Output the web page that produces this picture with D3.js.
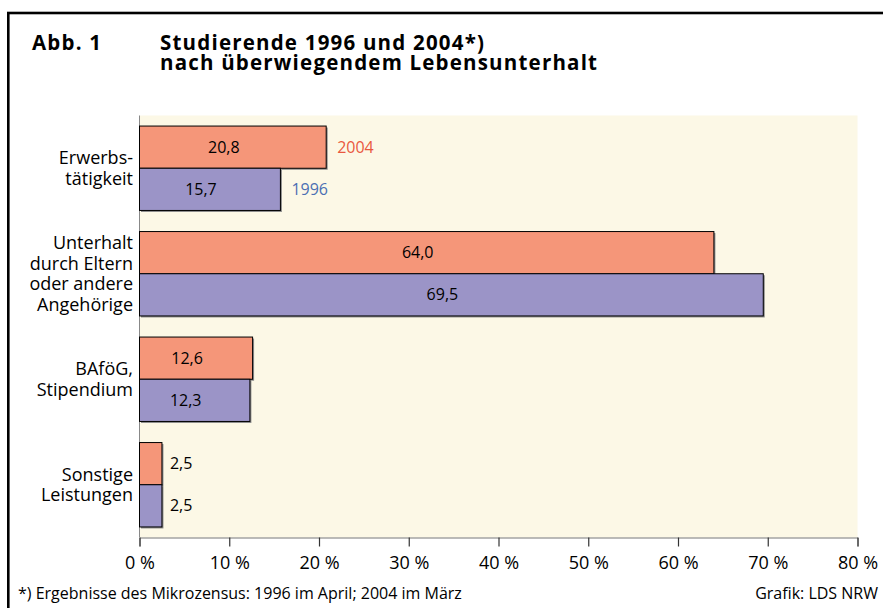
<!DOCTYPE html>
<html lang="de">
<head>
    <meta charset="UTF-8">
    <title>Studierende 1996 und 2004</title>
    <script src="https://cdn.jsdelivr.net/npm/d3@7/dist/d3.min.js"></script>
    <style>
        body { margin: 0; background: #fff; }
        svg { display: block; font-family: "Open Sans", sans-serif; }
    </style>
</head>
<body>
<div id="container"></div>
<script>
    // data
    const categories = [
        ["Erwerbs-", "tätigkeit"],
        ["Unterhalt", "durch Eltern", "oder andere", "Angehörige"],
        ["BAföG,", "Stipendium"],
        ["Sonstige", "Leistungen"]
    ];
    const years = ["2004", "1996"];
    const values2004 = [20.8, 64.0, 12.6, 2.5];
    const values1996 = [15.7, 69.5, 12.3, 2.5];
    const xTicks = [0, 10, 20, 30, 40, 50, 60, 70, 80];

    const width = 883, height = 608;
    const plotLeft = 139.5, plotRight = 857.5, plotTop = 115.5, plotBottom = 537.5;

    const colors = { "2004": "#f59679", "1996": "#9b94c7" };
    const legendColors = { "2004": "#e9583f", "1996": "#4b6fb3" };

    const rows = categories.map((c, i) => ({
        lines: c, key: i,
        vals: [{ year: "2004", v: values2004[i] }, { year: "1996", v: values1996[i] }]
    }));

    let svg = d3.select("#container").append("svg")
        .attr("width", width)
        .attr("height", height);

    // frame
    svg.append("rect")
        .attr("x", 8.3).attr("y", 13)
        .attr("width", 1000).attr("height", 800)
        .attr("fill", "none").attr("stroke", "#000").attr("stroke-width", 2.6);

    // title
    let title = svg.append("g")
        .attr("font-weight", "bold").attr("font-size", 20.5)
        .attr("letter-spacing", 1.2);
    title.append("text").attr("x", 32).attr("y", 50).text("Abb. 1");
    title.append("text").attr("x", 160).attr("y", 50).text("Studierende 1996 und 2004*)");
    title.append("text").attr("x", 160).attr("y", 70).text("nach überwiegendem Lebensunterhalt");

    let x = d3.scaleLinear().domain([0, 80]).range([plotLeft, plotRight]);
    let y = d3.scaleBand().domain(rows.map(d => d.key))
        .range([plotTop, plotBottom]).paddingInner(0.2).paddingOuter(0.1);
    let y2 = d3.scaleBand().domain(years).range([0, y.bandwidth()]);

    // plot background
    svg.append("rect")
        .attr("x", plotLeft).attr("y", plotTop)
        .attr("width", plotRight - plotLeft).attr("height", plotBottom - plotTop)
        .attr("fill", "#fcf8e6");

    // x axis
    let axis = svg.append("g")
        .attr("transform", `translate(0,${plotBottom})`)
        .call(d3.axisBottom(x).tickValues(xTicks).tickSize(9).tickPadding(10)
            .tickFormat(d => d + " %"));
    axis.select(".domain").attr("stroke", "#777");
    axis.selectAll(".tick line").attr("stroke", "#333").attr("stroke-width", 1.2);
    axis.selectAll(".tick text").attr("font-size", 18).attr("fill", "#000")
        .attr("font-family", "Open Sans, sans-serif");

    // left zero line
    svg.append("line")
        .attr("x1", x(0)).attr("x2", x(0))
        .attr("y1", plotTop).attr("y2", plotBottom)
        .attr("stroke", "#888");

    let groups = svg.selectAll(".grp").data(rows).enter().append("g")
        .attr("class", "grp")
        .attr("transform", d => `translate(0,${y(d.key)})`);

    // shadows
    groups.selectAll(".shadow").data(d => d.vals).enter().append("rect")
        .attr("x", x(0) + 1.5)
        .attr("y", d => y2(d.year) + 1.5)
        .attr("width", d => x(d.v) - x(0))
        .attr("height", y2.bandwidth())
        .attr("fill", "#8a8a8a");

    groups.selectAll(".bar").data(d => d.vals).enter().append("rect")
        .attr("class", "bar")
        .attr("x", x(0))
        .attr("y", d => y2(d.year))
        .attr("width", d => x(d.v) - x(0))
        .attr("height", y2.bandwidth())
        .attr("fill", d => colors[d.year])
        .attr("stroke", "#000").attr("stroke-width", 1);

    // value labels
    const fmt = v => d3.format(".1f")(v).replace(".", ",");
    groups.selectAll(".val").data(d => d.vals).enter().append("text")
        .attr("x", d => d.v < 6 ? x(d.v) + 8 : x(d.v / 2) - 9)
        .attr("y", d => y2(d.year) + y2.bandwidth() / 2)
        .attr("dy", "0.35em")
        .attr("text-anchor", d => d.v < 6 ? "start" : "middle")
        .attr("font-size", 16)
        .text(d => fmt(d.v));

    // year labels next to first group
    svg.selectAll(".yr").data(rows[0].vals).enter().append("text")
        .attr("x", d => x(d.v) + 11)
        .attr("y", d => y(0) + y2(d.year) + y2.bandwidth() / 2)
        .attr("dy", "0.35em")
        .attr("font-size", 16)
        .attr("fill", d => legendColors[d.year])
        .text(d => d.year);

    // category labels
    const lh = 20.5;
    groups.each(function(d) {
        let g = d3.select(this);
        let n = d.lines.length;
        let cy = y.bandwidth() / 2;
        d.lines.forEach((t, i) => {
            g.append("text")
                .attr("x", 133)
                .attr("y", cy + (i - (n - 1) / 2) * lh)
                .attr("dy", "0.35em")
                .attr("text-anchor", "end")
                .attr("font-size", 18)
                .text(t);
        });
    });

    // footnotes
    svg.append("text").attr("x", 18).attr("y", 599)
        .attr("font-size", 16)
        .text("*) Ergebnisse des Mikrozensus: 1996 im April; 2004 im März");
    svg.append("text").attr("x", 878).attr("y", 599)
        .attr("text-anchor", "end")
        .attr("font-size", 16)
        .text("Grafik: LDS NRW");
</script>
</body>
</html>
